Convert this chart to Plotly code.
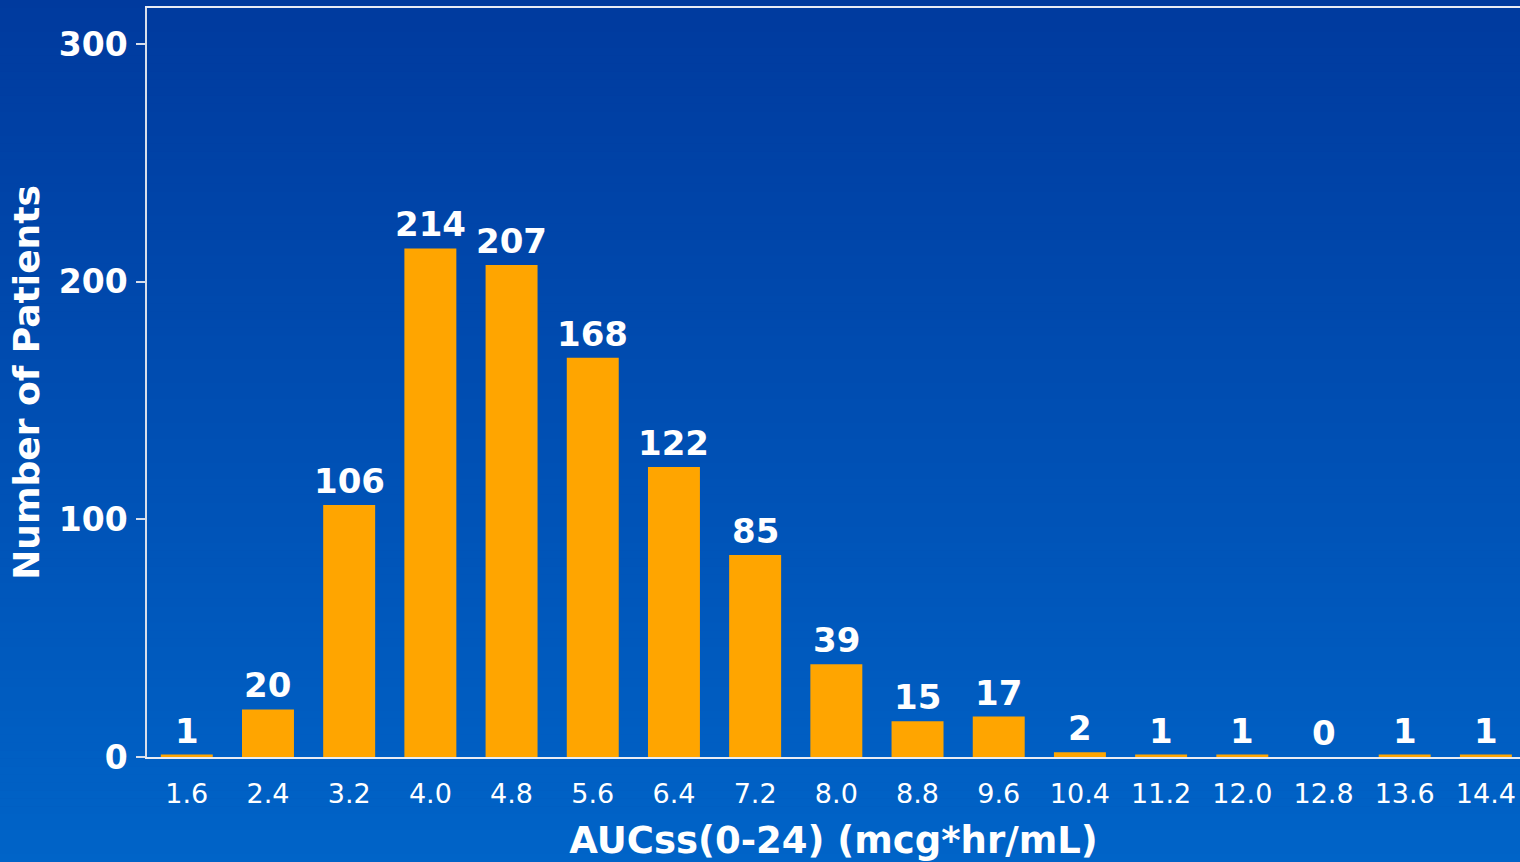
import plotly.graph_objects as go

# Histogram of steady-state exposure
auc_bins = ["1.6", "2.4", "3.2", "4.0", "4.8", "5.6", "6.4", "7.2", "8.0",
            "8.8", "9.6", "10.4", "11.2", "12.0", "12.8", "13.6", "14.4"]
patients = [1, 20, 106, 214, 207, 168, 122, 85, 39, 15, 17, 2, 1, 1, 0, 1, 1]
y_ticks = [0, 100, 200, 300]

W, H = 1520, 862
ML, MR, MT, MB = 147, 0, 8, 105
PW, PH = W - ML - MR, H - MT - MB

FONT = "DejaVu Sans, Arial, sans-serif"
BAR = "#FFA500"
TOP_RGB = (0, 58, 158)
BOT_RGB = (0, 100, 200)

fig = go.Figure()
fig.add_trace(go.Bar(
    x=auc_bins, y=patients, width=0.64,
    marker=dict(color=BAR, line=dict(width=0)),
    hoverinfo="skip",
))

# value labels above each bar (category axis positions are indices)
for i, v in enumerate(patients):
    fig.add_annotation(
        x=i, y=v, xref="x", yref="y", text=f"<b>{v}</b>",
        showarrow=False, yanchor="bottom", yshift=2,
        font=dict(family=FONT, size=34, color="white"),
    )

# vertical background gradient, drawn as thin bands in paper coordinates
shapes = []
n = 108
for i in range(n):
    p0 = i * H / n
    p1 = (i + 1) * H / n + 0.6
    t = (i + 0.5) / n
    r, g, b = [round(a + (c - a) * t) for a, c in zip(TOP_RGB, BOT_RGB)]
    shapes.append(dict(
        type="rect", xref="paper", yref="paper", layer="below",
        x0=-ML / PW, x1=1 + MR / PW + 0.01,
        y0=(H - MB - p1) / PH, y1=(H - MB - p0) / PH,
        fillcolor=f"rgb({r},{g},{b})", line=dict(width=0),
    ))

fig.update_layout(
    width=W, height=H,
    margin=dict(l=ML, r=MR, t=MT, b=MB, pad=0),
    paper_bgcolor="rgb(0,78,178)",
    plot_bgcolor="rgba(0,0,0,0)",
    shapes=shapes,
    showlegend=False,
    bargap=0.36,
)

fig.update_xaxes(
    type="category", range=[-0.49, 16.42],
    showline=True, linecolor="#E8ECF4", linewidth=1.5, mirror=True,
    showgrid=False, ticks="", ticklabelstandoff=12,
    tickfont=dict(family=FONT, size=27, color="white"),
    title=dict(text="<b>AUCss(0-24) (mcg*hr/mL)</b>", standoff=21,
               font=dict(family=FONT, size=37, color="white")),
)
fig.update_yaxes(
    range=[0, 315.2], tickvals=y_ticks,
    showline=True, linecolor="#D8DEEA", linewidth=1.5,
    showgrid=False, zeroline=False,
    ticks="outside", ticklen=9, tickcolor="#D8DEEA", tickwidth=1.5,
    ticklabelstandoff=2,
    tickfont=dict(family=FONT, size=33, color="white", weight="bold"),
    title=dict(text="<b>Number of Patients</b>", standoff=8,
               font=dict(family=FONT, size=36, color="white")),
)

fig.write_html("out.html")
